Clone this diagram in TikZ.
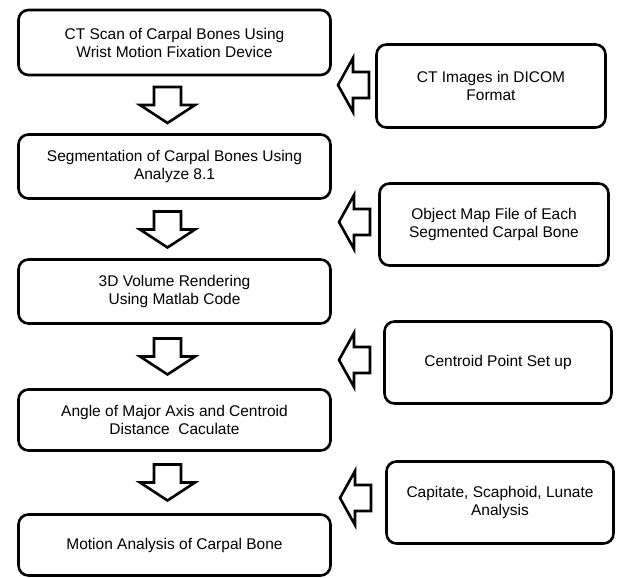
\documentclass[tikz,border=0pt]{standalone}
\usepackage{fontspec}
\setmainfont{Liberation Sans}
\begin{document}
\begin{tikzpicture}[x=1pt,y=-1pt,
 box/.style={draw, line width=2.6pt, rounded corners=10pt, align=center,
   font=\fontsize{15.5}{18}\selectfont, inner sep=0pt},
 arrline/.style={draw, line width=2.6pt, line join=miter},
 leftblock/.pic={\path[arrline] (0,0) -- (15,-27) -- (15,-13) -- (31,-13) -- (31,13) -- (15,13) -- (15,27) -- cycle;},
 downblock/.pic={\path[arrline] (0,0) -- (-27.5,-18) -- (-13.5,-18) -- (-13.5,-36) -- (13.5,-36) -- (13.5,-18) -- (27.5,-18) -- cycle;},
]
\useasboundingbox (0,0) rectangle (619,578);
% left column
\node[box, minimum width=312pt, minimum height=65pt] (b1) at (174.5,42.5) {CT Scan of Carpal Bones Using\\Wrist Motion Fixation Device};
\node[box, minimum width=312pt, minimum height=64pt] (b2) at (174.5,166.5) {Segmentation of Carpal Bones Using\\Analyze 8.1};
\node[box, minimum width=312pt, minimum height=64pt] (b3) at (174.5,291.5) {3D Volume Rendering\\Using Matlab Code};
\node[box, minimum width=312pt, minimum height=61pt] (b4) at (174.5,420) {Angle of Major Axis and Centroid\\Distance\ \ Caculate};
\node[box, minimum width=312pt, minimum height=61pt] (b5) at (174.5,545) {Motion Analysis of Carpal Bone};
% right column
\node[box, minimum width=229pt, minimum height=83pt] (r1) at (491,86) {CT Images in DICOM\\Format};
\node[box, minimum width=229pt, minimum height=82pt] (r2) at (494,224.5) {Object Map File of Each\\Segmented Carpal Bone};
\node[box, minimum width=227pt, minimum height=82pt] (r3) at (498,362.5) {Centroid Point Set up};
\node[box, minimum width=227pt, minimum height=82pt] (r4) at (500,502.5) {Capitate, Scaphoid, Lunate\\Analysis};
% down block arrows (tip positions)
\coordinate (d1) at (167.5,123);
\coordinate (d2) at (167.5,247.5);
\coordinate (d3) at (167.5,374.5);
\coordinate (d4) at (167.5,500.5);
\foreach \d in {d1,d2,d3,d4} \pic at (\d) {downblock};
% left block arrows (tip positions)
\coordinate (l1) at (338,85);
\coordinate (l2) at (339,222);
\coordinate (l3) at (339,360);
\coordinate (l4) at (340,498);
\foreach \l in {l1,l2,l3,l4} \pic at (\l) {leftblock};
\end{tikzpicture}
\end{document}
